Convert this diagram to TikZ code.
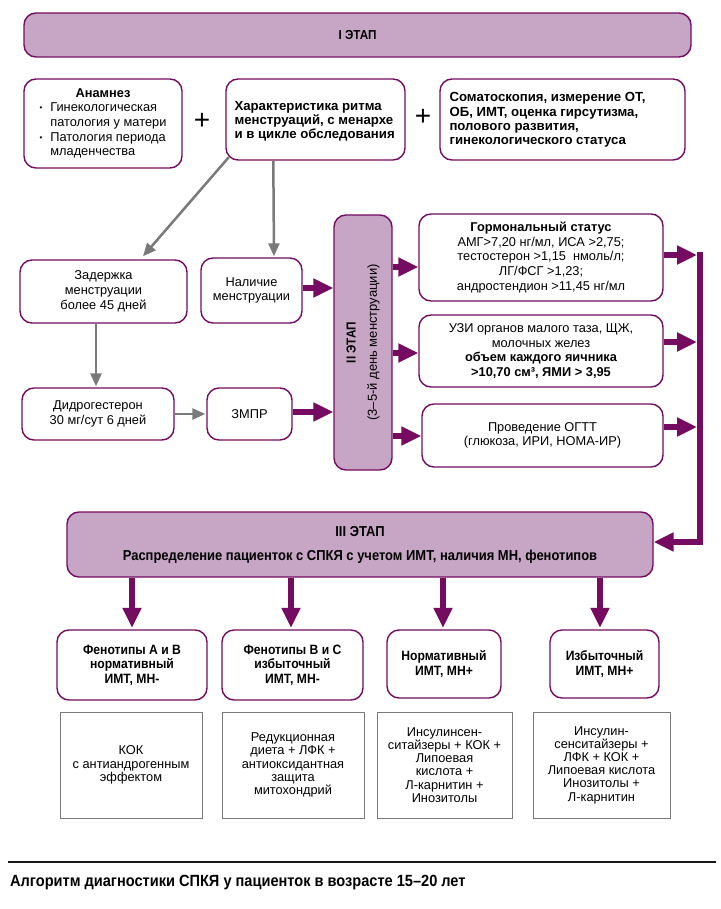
\documentclass[tikz,border=0pt]{standalone}
\usepackage{fontspec}
\setmainfont{Liberation Sans}
\newfontfamily\condfont[FakeStretch=0.9]{Liberation Sans}
\usetikzlibrary{arrows.meta,calc}
\definecolor{pdark}{RGB}{118,12,98}
\definecolor{pfill}{RGB}{198,165,197}
\definecolor{gline}{RGB}{122,122,122}
\begin{document}
\begin{tikzpicture}[x=1pt,y=-1pt,
  rbox/.style={draw=pdark, line width=1.4pt, rounded corners=12pt, fill=white, inner sep=0pt, align=center, font=\fontsize{12.8}{14.7}\selectfont},
  stagebox/.style={rbox, fill=pfill},
  fbox/.style={rbox, font=\condfont\bfseries\fontsize{13.5}{14.5}\selectfont},
  tbox/.style={draw=gline, line width=1pt, fill=white, inner sep=0pt, align=center, font=\fontsize{12.8}{13.2}\selectfont},
  txt/.style={inner sep=0pt, align=left, font=\bfseries\fontsize{13.2}{14.2}\selectfont},
  parrow/.style={draw=pdark, line width=6pt, -{Triangle[length=20pt,width=18pt]}},
  pline/.style={draw=pdark, line width=6pt},
  garrow/.style={draw=gline, line width=2.5pt, -{Triangle[length=13pt,width=11pt]}},
  plus/.style={inner sep=0pt, font=\fontsize{28}{28}\selectfont}
]
\useasboundingbox (0,0) rectangle (720,909);
\fill[white] (0,0) rectangle (720,909);

% Stage I
\node[stagebox, minimum width=667pt, minimum height=44pt, font=\condfont\bfseries\fontsize{13}{14}\selectfont] (s1) at (357.5,35) {I ЭТАП};

% top row
\node[rbox, minimum width=158pt, minimum height=89pt] (anam) at (103,123.5)
  {\begin{tabular}{@{}l@{\hspace{8pt}}l@{}}\multicolumn{2}{@{}c@{}}{\textbf{Анамнез}}\\
   \raisebox{0.15ex}{\footnotesize•} & Гинекологическая\\
   & патология у матери\\
   \raisebox{0.15ex}{\footnotesize•} & Патология периода\\
   & младенчества\end{tabular}};
\node[plus] (plus1) at (202,121) {+};
\node[rbox, minimum width=179pt, minimum height=81pt] (char) at (315.5,119.5) {};
\node[txt, anchor=west] (chartxt) at ($(char.west)+(9,1.5)$) {Характеристика ритма\\менструаций, с менархе\\и в цикле обследования};
\node[plus] (plus2) at (423,117) {+};
\node[rbox, minimum width=245pt, minimum height=81pt] (soma) at (562.5,119.5) {};
\node[txt, anchor=west] (somatxt) at ($(soma.west)+(10,0.5)$) {Соматоскопия, измерение ОТ,\\ОБ, ИМТ, оценка гирсутизма,\\полового развития,\\гинекологического статуса};

% left column
\node[rbox, minimum width=167pt, minimum height=63pt] (zad) at (103.5,291.5) {Задержка\\менструации\\более 45 дней};
\node[rbox, minimum width=101pt, minimum height=65pt] (nal) at (251.5,290.5) {Наличие\\менструации};
\node[rbox, minimum width=152pt, minimum height=52pt] (didro) at (98,414) {Дидрогестерон\\30 мг/сут 6 дней};
\node[rbox, minimum width=85pt, minimum height=52pt] (zmpr) at (249.5,414) {ЗМПР};

% Stage II
\node[stagebox, minimum width=58pt, minimum height=255pt] (s2) at (363,342.5) {};
\node[rotate=90, align=center, inner sep=0pt, font=\fontsize{13}{14.3}\selectfont] (s2txt) at (s2.center) {{\condfont\bfseries II ЭТАП}\\[7pt](3–5-й день менструации)};

% right column
\node[rbox, minimum width=244pt, minimum height=87pt] (horm) at (541,257.5)
  {\textbf{Гормональный статус}\\АМГ>7,20 нг/мл, ИСА >2,75;\\тестостерон >1,15\ \ нмоль/л;\\ЛГ/ФСГ >1,23;\\андростендион >11,45 нг/мл};
\node[rbox, minimum width=244pt, minimum height=72pt] (uzi) at (541,351)
  {УЗИ органов малого таза, ЩЖ,\\молочных желез\\\textbf{объем каждого яичника}\\\textbf{>10,70 см³, ЯМИ > 3,95}};
\node[rbox, minimum width=241pt, minimum height=63pt] (ogtt) at (542.5,435.5)
  {Проведение ОГТТ\\(глюкоза, ИРИ, HOMA-ИР)};

% Stage III
\node[stagebox, minimum width=586pt, minimum height=65pt, font=\condfont\bfseries\fontsize{14.4}{14}\selectfont] (s3) at (360,544.5)
  {III ЭТАП\\[10pt]Распределение пациенток с СПКЯ с учетом ИМТ, наличия МН, фенотипов};

% phenotype boxes
\node[fbox, minimum width=150pt, minimum height=70pt] (f1) at (132,665) {Фенотипы А и В\\нормативный\\ИМТ, МН-};
\node[fbox, minimum width=141pt, minimum height=70pt] (f2) at (292.5,665) {Фенотипы В и С\\избыточный\\ИМТ, МН-};
\node[fbox, minimum width=114pt, minimum height=68pt] (f3) at (444,664) {Нормативный\\ИМТ, МН+};
\node[fbox, minimum width=109pt, minimum height=68pt] (f4) at (604.5,664) {Избыточный\\ИМТ, МН+};

% treatment boxes
\node[tbox, minimum width=142pt, minimum height=106pt] (t1) at (131,765) {КОК\\с антиандрогенным\\эффектом};
\node[tbox, minimum width=142pt, minimum height=106pt] (t2) at (293,765) {Редукционная\\диета + ЛФК +\\антиоксидантная\\защита\\митохондрий};
\node[tbox, minimum width=135pt, minimum height=106pt] (t3) at (444.5,765) {Инсулинсен-\\ситайзеры + КОК +\\Липоевая\\кислота +\\Л-карнитин +\\Инозитолы};
\node[tbox, minimum width=137pt, minimum height=106pt] (t4) at (601.5,765) {Инсулин-\\сенситайзеры +\\ЛФК + КОК +\\Липоевая кислота\\Инозитолы +\\Л-карнитин};

% grey arrows
\draw[garrow] ($(char.south west)+(3.5,-3.5)$) -- ($(zad.north)+(39.5,-3)$);
\draw[garrow] ($(char.south west)+(48,0)$) -- ($(nal.north)+(22.5,-1)$);
\draw[garrow] ($(zad.south)+(-7.5,0)$) -- ($(didro.north)+(-2,-1)$);
\draw[garrow] (didro.east) -- ($(zmpr.west)+(-1,0)$);

% purple arrows into / out of stage II
\draw[parrow] ($(nal.east)+(0,-2.5)$) -- ($(nal.east -| s2.west)+(0,-2.5)$);
\draw[parrow] ($(zmpr.east)+(0,-2)$) -- ($(zmpr.east -| s2.west)+(0,-2)$);
\draw[parrow] ($(horm.west -| s2.east)+(0,9.5)$) -- ($(horm.west)+(0,9.5)$);
\draw[parrow] ($(uzi.west -| s2.east)+(0,2)$) -- ($(uzi.west)+(0,2)$);
\draw[parrow] ($(ogtt.west -| s2.east)+(0,0.5)$) -- ($(ogtt.west)+(0,0.5)$);

% spine on the right
\coordinate (sp1) at (700,252);
\coordinate (sp2) at (700,542);
\draw[parrow, line join=miter] (sp1) -- (sp2) -- (sp2 -| s3.east);
\draw[parrow] ($(horm.east)+(0,-2.5)$) -- ($(horm.east -| sp1)+(-3,-2.5)$);
\draw[parrow] ($(uzi.east)+(0,-9)$) -- ($(uzi.east -| sp1)+(-3,-9)$);
\draw[parrow] ($(ogtt.east)+(0,-8.5)$) -- ($(ogtt.east -| sp1)+(-3,-8.5)$);

% stage III to phenotypes
\draw[parrow] (s3.south -| f1.north) -- ($(f1.north)+(0,-1.5)$);
\draw[parrow] ($(s3.south -| f2.north)+(-1.5,0)$) -- ($(f2.north)+(-1.5,-1.5)$);
\draw[parrow] ($(s3.south -| f3.north)+(-1,0)$) -- ($(f3.north)+(-1,-1.5)$);
\draw[parrow] ($(s3.south -| f4.north)+(-4.5,0)$) -- ($(f4.north)+(-4.5,-1.5)$);

% caption
\coordinate (r1) at (8,862);
\coordinate (r2) at (716,862);
\draw[line width=2pt, black!90] (r1) -- (r2);
\node[anchor=west, inner sep=0pt, font=\condfont\bfseries\fontsize{16.2}{18}\selectfont] (cap) at (10,883) {Алгоритм диагностики СПКЯ у пациенток в возрасте 15–20 лет};
\end{tikzpicture}
\end{document}
